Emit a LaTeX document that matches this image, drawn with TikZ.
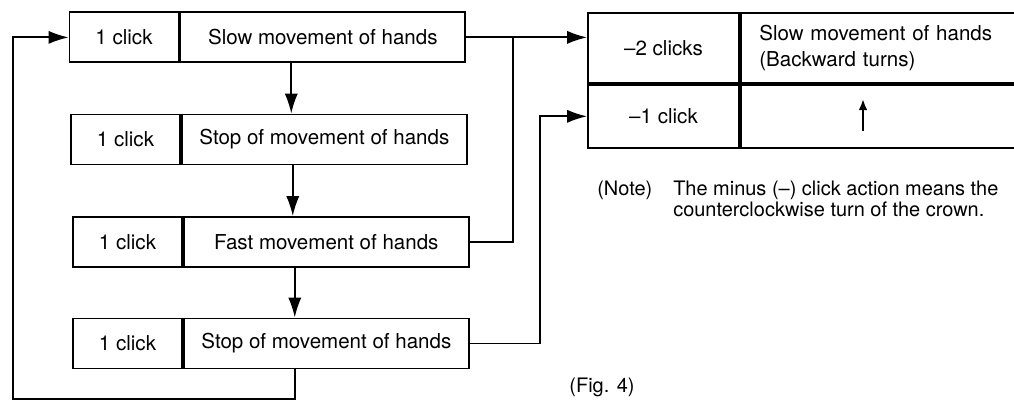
\documentclass[tikz,border=0pt]{standalone}
\usepackage{fontspec}
\setmainfont{TeX Gyre Heros}
\usetikzlibrary{arrows.meta,calc}
\tikzset{>={Latex[length=5mm,width=3.3mm]}}
\tikzstyle{cell}=[rectangle,draw=black,line width=1.3pt,minimum height=1.25cm,inner sep=1mm,font=\fontsize{14.6}{17}\selectfont]
\tikzstyle{remark}=[inner sep=0mm,font=\fontsize{14.2}{17}\selectfont]
\tikzstyle{wire}=[line width=1.3pt]

\begin{document}
\begin{tikzpicture}
	\def \clickw {2.725};
	\def \actw {7.125};
	\def \minw {3.775};
	\def \backw {7.025};
	\useasboundingbox (0,0) rectangle (25.35,10.025);
	
	
	\node[cell, minimum width=\clickw cm] (c1) at (3.1, 9.09) {1 click};
	\node[cell, minimum width=\actw cm, anchor=west] (a1) at (c1.east) {Slow movement of hands};
	\node[cell, minimum width=\clickw cm] (c2) at (3.1375, 6.5375) {1 click};
	\node[cell, minimum width=\actw cm, anchor=west] (a2) at (c2.east) {Stop of movement of hands};
	\node[cell, minimum width=\clickw cm] (c3) at (3.1875, 3.975) {1 click};
	\node[cell, minimum width=\actw cm, anchor=west] (a3) at (c3.east) {Fast movement of hands};
	\node[cell, minimum width=\clickw cm] (c4) at (3.1875, 1.4375) {1 click};
	\node[cell, minimum width=\actw cm, anchor=west] (a4) at (c4.east) {Stop of movement of hands};
	
	
	\coordinate (d1) at ($(a1.south west)!0.39!(a1.south east)$);
	\coordinate (d2) at ($(a2.south west)!0.39!(a2.south east)$);
	\coordinate (d3) at ($(a3.south west)!0.39!(a3.south east)$);
	\coordinate (d4) at ($(a4.south west)!0.39!(a4.south east)$);
	\coordinate (lb) at (0.325, 0.05);
	
	\draw[->, wire] (d1) -- (d1 |- a2.north);
	\draw[->, wire] (d2) -- (d2 |- a3.north);
	\draw[->, wire] (d3) -- (d3 |- a4.north);
	\draw[->, wire] (d4) |- (lb) |- (c1.west);
	
	
	\node[cell, minimum width=\minw cm, minimum height=1.75cm] (m2) at (16.5875, 8.825) {\textendash 2 clicks};
	\node[cell, anchor=west, minimum width=\backw cm, minimum height=1.75cm, text width=6.1cm, align=left, inner xsep=0.45cm, font=\fontsize{14.6}{18.5}\selectfont] (back) at (m2.east) {Slow movement of hands\\(Backward turns)};
	\node[cell, anchor=north, minimum width=\minw cm, minimum height=1.575cm] (m1) at (m2.south) {\textendash 1 click};
	\node[cell, anchor=west, minimum width=\backw cm, minimum height=1.575cm] (up) at (m1.east) {};
	
	\coordinate (upbot) at (21.575, 6.75);
	\coordinate (uptop) at (21.575, 7.55);
	\draw[-{Latex[length=2.8mm,width=2.2mm]}, line width=1.5pt] (upbot) -- (uptop);
	
	
	\coordinate (j1) at ([xshift=1.175cm]a1.east);
	\coordinate (j2) at ([xshift=-1.175cm]m1.west);
	\draw[->, wire] (a1.east) -- (a1.east -| m2.west);
	\draw[wire] (a3.east) -| (j1);
	\draw[->, wire] (a4.east) -| (j2) -- (m1.west);
	
	
	\node[remark, anchor=north west] (note) at (14.925, 5.5) {(Note)};
	\node[remark, anchor=north west, align=left, font=\fontsize{14.2}{15}\selectfont] (notetext) at (16.825, 5.5) {The minus (\textendash) click action means the\\counterclockwise turn of the crown.};
	\node[remark] (fig) at (15.05, 0.35) {(Fig. 4)};
\end{tikzpicture}
\end{document}
